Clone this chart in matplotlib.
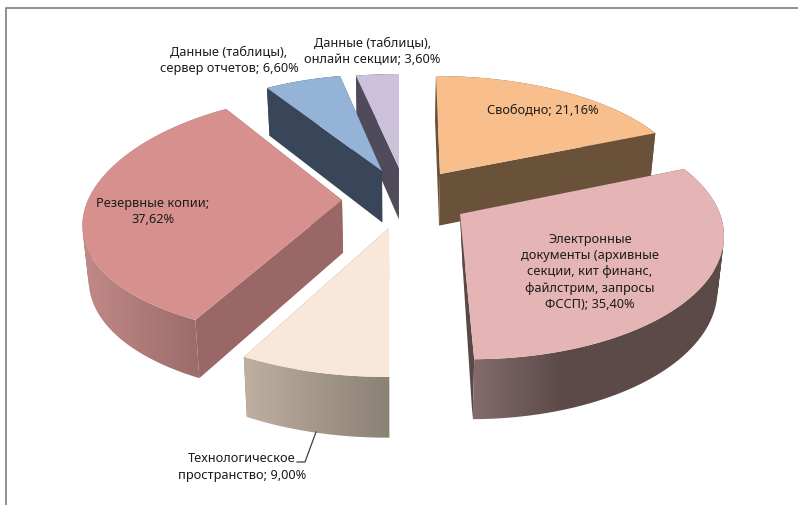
import numpy as np
import matplotlib
matplotlib.use("Agg")
import matplotlib.pyplot as plt
from matplotlib.colors import to_rgb
from matplotlib.patches import Polygon, PathPatch
from matplotlib.path import Path

# ---- data ----
categories = ["Свободно", "Электронные документы", "Технологическое пространство",
              "Резервные копии", "Данные (таблицы), сервер отчетов",
              "Данные (таблицы), онлайн секции"]
values = [21.16, 35.40, 9.00, 37.62, 6.60, 3.60]
labels = ["Свободно; 21,16%",
          "Электронные\nдокументы (архивные\nсекции, кит финанс,\nфайлстрим, запросы\nФССП); 35,40%",
          "Технологическое\nпространство; 9,00%",
          "Резервные копии;\n37,62%",
          "Данные (таблицы),\nсервер отчетов; 6,60%",
          "Данные (таблицы),\nонлайн секции; 3,60%"]

# ---- per-slice style: exploded apex, projection and colours ----
apex = [(440, 174), (460, 214), (389, 228), (342, 200), (382, 171), (399, 168)]
ex = [247, 260, 270, 254, 236, 242]
ey = [111, 123, 130, 120, 108, 105]
qx = [.127, .135, .127, .207, .117, .117]
qy = [.133, .153, .127, .134, .117, .117]
shear = [.041, .083, -.013, 0, 0, 0]
back_shift = [0, 4, 0, 0, 0, 0]
top_col = ["#F8BE8C", "#E4B5B4", "#F9E8D9", "#D6908E", "#95B3D7", "#CCC1DA"]
rad_col = ["#6A5139", "#5A4847", "#8A8074", "#996766", "#394659", "#504B5A"]
outer_stops = [([0, 1], ["#6A5139", "#6A5139"]),
               ([0, .35, 1], ["#846C6C", "#5C4A49", "#5C4A49"]),
               ([0, 1], ["#BFB0A1", "#8A8074"]),
               ([0, .8, 1], ["#C28A88", "#9C6C6A", "#9C6C6A"]),
               ([0, 1], ["#394659", "#394659"]),
               ([0, 1], ["#504B5A", "#504B5A"])]
label_pos = [(542.5, 110), (590, 272), (242, 467), (153, 211.5), (229, 60.5), (372.5, 51.5)]
draw_order = [5, 4, 0, 1, 3, 2]

fig = plt.figure(figsize=(7.98, 5.05), dpi=100, facecolor="white")
ax = fig.add_axes([0, 0, 1, 1])


def project(i, theta):
    u, v = np.sin(theta), np.cos(theta)
    dy = -ey[i] * v / (1 + qy[i] * v)
    dx = ex[i] * u / (1 + qx[i] * v) + shear[i] * dy
    return apex[i][0] + dx, apex[i][1] + dy


def drop(x, y):
    """Lower rim of the pie for a point of the upper rim."""
    return x + (395 - x) * 0.02, y + 46.5 + 0.045 * (y - 60)


def wall_path(x, y, bx, by):
    """Union of the strips between the rims, all wound the same way."""
    verts, codes = [], []
    for k in range(len(x) - 1):
        q = np.array([(x[k], y[k]), (x[k + 1], y[k + 1]), (bx[k + 1], by[k + 1]), (bx[k], by[k])])
        area = np.sum(q[:, 0] * np.roll(q[:, 1], -1) - np.roll(q[:, 0], -1) * q[:, 1])
        if area < 0:
            q = q[::-1]
        verts += [*q, q[0]]
        codes += [Path.MOVETO, Path.LINETO, Path.LINETO, Path.LINETO, Path.CLOSEPOLY]
    return Path(verts, codes)


edges = np.concatenate([[0], np.cumsum(values)]) / np.sum(values) * 2 * np.pi

for rank, i in enumerate(draw_order):
    z = 3 + rank * 3
    th = np.linspace(edges[i], edges[i + 1], 200)
    x, y = project(i, th)
    bx, by = drop(x, y)
    ax0, ay0 = apex[i]
    bax, bay = drop(ax0, ay0)
    bax += back_shift[i]
    # radial walls
    for k in (0, -1):
        ax.add_patch(Polygon([(ax0, ay0), (x[k], y[k]), (bx[k], by[k]), (bax, bay)],
                             closed=True, fc=rad_col[i], ec="none", zorder=z))
    # outer wall with a horizontal gradient, clipped to the wall outline
    stops, cols = outer_stops[i]
    rgb = np.array([to_rgb(c) for c in cols])
    xs = np.linspace(x.min(), x.max(), 256)
    t = (xs - xs[0]) / (xs[-1] - xs[0])
    grad = np.stack([np.interp(t, stops, rgb[:, j]) for j in range(3)], axis=1)[None, :, :]
    wall = PathPatch(wall_path(x, y, bx, by), transform=ax.transData, fc="none", ec="none")
    ax.add_patch(wall)
    im = ax.imshow(grad, extent=[xs[0] - 1, xs[-1] + 1, by.max() + 2, y.min() - 2], aspect="auto",
                   interpolation="bilinear", zorder=z + 1)
    im.set_clip_path(wall)
    # top face
    ax.add_patch(Polygon(np.column_stack([np.r_[ax0, x], np.r_[ay0, y]]), closed=True,
                         fc=top_col[i], ec="none", zorder=z + 2))

ax.set_xlim(0, 798)
ax.set_ylim(505, 0)
ax.set_aspect("auto")
ax.axis("off")

# frame of the chart area
ax.plot([6.3, 6.3, 798], [505, 8.3, 8.3], color="#868686", lw=1.3, zorder=1, solid_capstyle="butt")

# labels
for lab, (lx, ly) in zip(labels, label_pos):
    ax.text(lx, ly, lab, ha="center", va="center", fontsize=9.2, family="Noto Sans",
            color="#1c1c1c", linespacing=1.33, zorder=50)

# leader line of the small slice
ax.plot([316, 305, 297], [432, 462, 462], color="#404040", lw=.9, zorder=50)

fig.savefig("out.png", dpi=100, facecolor="white")
